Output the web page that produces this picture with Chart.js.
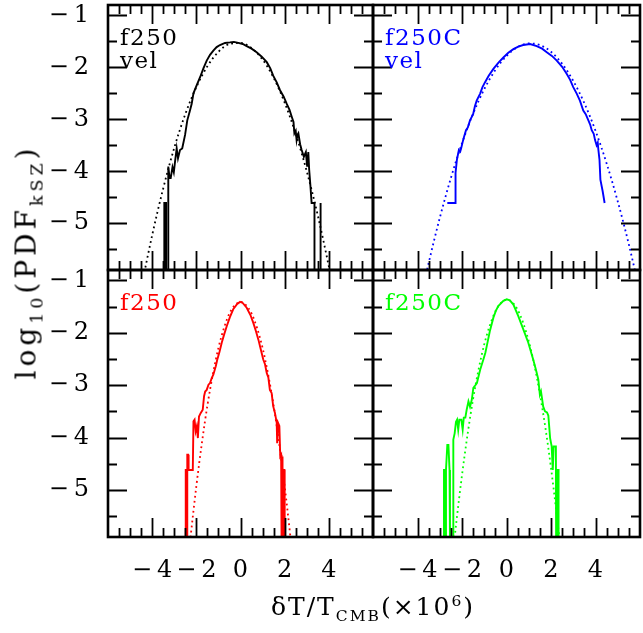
<!DOCTYPE html>
<html>
<head>
<meta charset="utf-8">
<script src="https://cdn.jsdelivr.net/npm/chart.js@4.4.1/dist/chart.umd.min.js"></script>
<style>
  html, body { margin:0; padding:0; background:#fff; }
  #wrap { position:relative; width:643px; height:633px; overflow:hidden; }
  canvas.ov { position:absolute; left:0; top:0; }
  .ttl { position:absolute; font-family:"DejaVu Serif", serif; color:#000; white-space:nowrap; line-height:1; }
  .ttl sub, .ttl sup { font-size:62%; }
  #xtitle { left:373px; top:594px; transform:translateX(-50%); font-size:25px; letter-spacing:2px; }
  #ytitle { left:29px; top:262px; transform:translate(-50%,-50%) rotate(-90deg); font-size:28px; letter-spacing:4px; }
</style>
</head>
<body>
<div id="wrap">
  <canvas class="ov" id="c1" width="643" height="633"></canvas>
  <canvas class="ov" id="c2" width="643" height="633"></canvas>
  <canvas class="ov" id="c3" width="643" height="633"></canvas>
  <canvas class="ov" id="c4" width="643" height="633"></canvas>
  <div class="ttl" id="xtitle">&delta;T/T<sub>CMB</sub>(&times;10<sup>6</sup>)</div>
  <div class="ttl" id="ytitle">log<sub>10</sub>(PDF<sub>kSZ</sub>)</div>
</div>
<script>
// ---------- axis ticks ----------
const xTickLabels = [-4, -2, 0, 2, 4];
const yTickLabels = [-5, -4, -3, -2, -1];

// ---------- panel names ----------
const panelNames = [["f250", "vel"], ["f250C", "vel"], ["f250"], ["f250C"]];
const panelColors = ["#000000", "#0000ff", "#ff0000", "#00ff00"];

// ---------- series: [dT/T (x1e6), log10 PDF] ----------
const f250vel_sim = [[-3.45,-6.0],[-3.45,-4.61],[-3.37,-4.61],[-3.37,-6.0],[-3.27,-6.0],[-3.27,-3.91],[-3.21,-4.13],[-3.16,-4.13],[-3.08,-3.92],[-3.02,-4.02],[-2.96,-3.80],[-2.89,-3.56],[-2.83,-3.75],[-2.74,-3.59],[-2.64,-3.56],[-2.51,-3.30],[-2.41,-3.02],[-2.30,-2.85],[-2.21,-2.70],[-2.13,-2.50],[-2.00,-2.36],[-1.83,-2.19],[-1.68,-2.02],[-1.53,-1.87],[-1.38,-1.76],[-1.23,-1.68],[-1.08,-1.61],[-0.93,-1.57],[-0.70,-1.53],[-0.48,-1.52],[-0.30,-1.51],[-0.10,-1.53],[0.10,-1.55],[0.28,-1.59],[0.50,-1.64],[0.73,-1.71],[0.95,-1.79],[1.19,-1.90],[1.35,-2.02],[1.48,-2.16],[1.64,-2.29],[1.79,-2.44],[1.95,-2.56],[2.09,-2.70],[2.22,-2.82],[2.32,-2.95],[2.40,-3.05],[2.44,-3.27],[2.50,-3.22],[2.54,-3.40],[2.58,-3.30],[2.62,-3.27],[2.70,-3.48],[2.77,-3.59],[2.87,-3.72],[2.96,-3.63],[3.02,-3.91],[3.07,-3.63],[3.11,-3.97],[3.17,-4.30],[3.22,-4.61],[3.35,-4.61],[3.35,-6.0],[3.60,-6.0],[3.60,-4.61],[3.64,-4.61],[3.64,-6.0]];
const f250vel_fit = [[-4.4,-6.04],[-4.0,-5.23],[-3.5,-4.33],[-3.0,-3.55],[-2.5,-2.90],[-2.0,-2.38],[-1.5,-1.98],[-1.0,-1.70],[-0.5,-1.55],[0,-1.53],[0.5,-1.63],[1.0,-1.85],[1.5,-2.20],[2.0,-2.68],[2.5,-3.28],[3.0,-4.00],[3.5,-4.85],[4.0,-5.83],[4.2,-6.25]];

const f250Cvel_sim = [[-2.66,-4.61],[-2.31,-4.61],[-2.29,-4.03],[-2.23,-3.78],[-2.14,-3.59],[-2.08,-3.62],[-2.04,-3.56],[-1.96,-3.42],[-1.91,-3.34],[-1.82,-3.21],[-1.74,-3.16],[-1.64,-3.02],[-1.50,-2.90],[-1.42,-2.75],[-1.34,-2.64],[-1.19,-2.51],[-1.08,-2.38],[-0.97,-2.29],[-0.80,-2.16],[-0.59,-2.03],[-0.36,-1.91],[-0.14,-1.81],[0.08,-1.72],[0.31,-1.65],[0.53,-1.60],[0.75,-1.57],[1.06,-1.55],[1.36,-1.59],[1.60,-1.64],[1.81,-1.71],[2.04,-1.78],[2.26,-1.87],[2.50,-1.99],[2.71,-2.13],[2.86,-2.24],[3.00,-2.38],[3.15,-2.50],[3.30,-2.64],[3.45,-2.83],[3.56,-2.90],[3.68,-3.02],[3.76,-3.10],[3.83,-3.21],[3.92,-3.28],[3.98,-3.40],[4.05,-3.50],[4.10,-3.45],[4.13,-3.59],[4.18,-3.78],[4.22,-4.16],[4.32,-4.38],[4.41,-4.61]];
const f250Cvel_fit = [[-4.0,-6.74],[-3.5,-5.77],[-3.0,-4.90],[-2.5,-4.13],[-2.0,-3.46],[-1.5,-2.89],[-1.0,-2.42],[-0.5,-2.05],[0,-1.78],[0.5,-1.61],[1.0,-1.54],[1.5,-1.57],[2.0,-1.70],[2.5,-1.93],[3.0,-2.26],[3.5,-2.69],[4.0,-3.22],[4.5,-3.85],[5.0,-4.58],[5.5,-5.41],[6.0,-6.34]];

const f250_sim = [[-2.48,-6.0],[-2.48,-4.62],[-2.45,-4.62],[-2.45,-6.0],[-2.41,-6.0],[-2.41,-4.33],[-2.37,-4.33],[-2.35,-4.62],[-2.16,-4.62],[-2.13,-3.69],[-2.08,-3.66],[-2.03,-3.88],[-1.98,-3.79],[-1.93,-4.01],[-1.88,-3.60],[-1.80,-3.53],[-1.71,-3.47],[-1.65,-3.21],[-1.60,-3.12],[-1.53,-3.09],[-1.45,-2.99],[-1.38,-2.96],[-1.30,-2.86],[-1.23,-2.80],[-1.12,-2.64],[-1.05,-2.51],[-0.95,-2.36],[-0.85,-2.19],[-0.74,-2.03],[-0.62,-1.87],[-0.48,-1.70],[-0.33,-1.55],[-0.15,-1.45],[-0.02,-1.41],[0.10,-1.43],[0.28,-1.52],[0.45,-1.66],[0.58,-1.81],[0.70,-1.97],[0.81,-2.13],[0.92,-2.32],[1.03,-2.51],[1.11,-2.60],[1.19,-2.77],[1.26,-2.85],[1.33,-3.09],[1.41,-3.15],[1.48,-3.40],[1.56,-3.53],[1.64,-3.72],[1.66,-4.11],[1.69,-4.11],[1.70,-3.72],[1.76,-3.78],[1.80,-4.36],[1.84,-4.33],[1.86,-6.0],[1.88,-6.0],[1.88,-4.36],[1.91,-4.36],[1.92,-6.0],[1.96,-6.0],[1.96,-4.62],[1.99,-4.62],[2.00,-6.0]];
const f250_fit = [[-2.4,-6.48],[-2.25,-5.86],[-2.0,-4.93],[-1.75,-4.11],[-1.5,-3.39],[-1.25,-2.79],[-1.0,-2.29],[-0.75,-1.91],[-0.5,-1.63],[-0.25,-1.47],[0,-1.41],[0.25,-1.47],[0.5,-1.63],[0.75,-1.91],[1.0,-2.29],[1.25,-2.79],[1.5,-3.39],[1.75,-4.11],[2.0,-4.93],[2.25,-5.86],[2.4,-6.48]];

const f250C_sim = [[-2.81,-6.0],[-2.81,-4.62],[-2.78,-4.62],[-2.78,-6.0],[-2.72,-6.0],[-2.72,-4.62],[-2.66,-4.14],[-2.61,-4.14],[-2.56,-4.62],[-2.54,-6.0],[-2.40,-6.0],[-2.39,-4.04],[-2.33,-3.92],[-2.27,-3.70],[-2.22,-3.66],[-2.17,-3.85],[-2.12,-3.66],[-2.03,-3.66],[-1.97,-3.85],[-1.92,-3.62],[-1.85,-3.62],[-1.79,-3.47],[-1.71,-3.31],[-1.64,-3.41],[-1.56,-3.28],[-1.49,-3.05],[-1.43,-3.02],[-1.33,-2.96],[-1.25,-2.82],[-1.18,-2.70],[-1.04,-2.51],[-0.95,-2.38],[-0.88,-2.24],[-0.75,-1.97],[-0.59,-1.71],[-0.48,-1.58],[-0.37,-1.49],[-0.14,-1.39],[0.01,-1.36],[0.15,-1.38],[0.31,-1.46],[0.53,-1.68],[0.76,-1.94],[0.98,-2.19],[1.20,-2.51],[1.32,-2.70],[1.43,-2.89],[1.50,-3.18],[1.55,-3.12],[1.65,-3.41],[1.73,-3.50],[1.82,-3.52],[1.88,-3.58],[1.96,-4.01],[2.03,-4.17],[2.08,-4.62],[2.12,-4.17],[2.22,-4.17],[2.23,-6.0],[2.30,-6.0],[2.30,-4.62],[2.34,-4.62],[2.34,-6.0]];
const f250C_fit = [[-2.5,-6.58],[-2.25,-5.60],[-2.0,-4.72],[-1.75,-3.94],[-1.5,-3.26],[-1.25,-2.69],[-1.0,-2.22],[-0.75,-1.86],[-0.5,-1.59],[-0.25,-1.43],[0,-1.37],[0.25,-1.41],[0.5,-1.56],[0.75,-1.81],[1.0,-2.16],[1.25,-2.61],[1.5,-3.17],[1.75,-3.82],[2.0,-4.58],[2.25,-5.45],[2.5,-6.41]];

// ---------- drawing ----------
const FONT = "'DejaVu Serif', serif";
const X_MIN = -6, X_MAX = 6, Y_MIN = -5.9, Y_MAX = -0.8;

const framePlugin = {
  id: 'frame',
  afterDatasetsDraw(chart) {
    const { ctx, chartArea: a, scales: { x, y } } = chart;
    ctx.save();
    ctx.strokeStyle = '#000';
    ctx.lineWidth = 1.8;
    ctx.beginPath();
    for (let v = X_MIN + 0.5; v < X_MAX - 0.01; v += 0.5) {
      const px = Math.round(x.getPixelForValue(v)) + 0.5;
      const len = (Math.abs(v % 2) < 1e-6) ? 19 : 9;
      ctx.moveTo(px, a.bottom); ctx.lineTo(px, a.bottom - len);
      ctx.moveTo(px, a.top); ctx.lineTo(px, a.top + len);
    }
    for (let v = -5.5; v < Y_MAX; v += 0.5) {
      const py = Math.round(y.getPixelForValue(v)) + 0.5;
      const len = (Math.abs(v % 1) < 1e-6) ? 19 : 9;
      ctx.moveTo(a.left, py); ctx.lineTo(a.left + len, py);
      ctx.moveTo(a.right, py); ctx.lineTo(a.right - len, py);
    }
    ctx.stroke();
    ctx.lineWidth = 2.6;
    ctx.strokeRect(a.left, a.top, a.right - a.left, a.bottom - a.top);
    ctx.restore();
  }
};

const labelPlugin = {
  id: 'panelLabel',
  afterDraw(chart, args, opts) {
    const { ctx, chartArea: a } = chart;
    ctx.save();
    ctx.font = "23px " + FONT;
    try { ctx.letterSpacing = '1.5px'; } catch (e) {}
    ctx.fillStyle = opts.color;
    ctx.textBaseline = 'alphabetic';
    opts.lines.forEach((t, i) => ctx.fillText(t, a.left + 12, a.top + 40 + i * 23));
    ctx.restore();
  }
};

function minusFmt(v) { return (v < 0 ? '\u2212\u2009' : '') + Math.abs(v); }

function makeChart(id, sim, fit, idx, showX, showY, pad) {
  const color = panelColors[idx];
  const xs = {
    type: 'linear', min: X_MIN, max: X_MAX, display: showX,
    grid: { display: false, drawTicks: false }, border: { display: false },
    ticks: { font: { family: FONT, size: 24 }, color: '#000', padding: 19, maxRotation: 0, autoSkip: false, callback: minusFmt },
    afterBuildTicks: s => { s.ticks = xTickLabels.map(v => ({ value: v })); }
  };
  if (showX) xs.afterFit = s => { s.height = 96; s.paddingLeft = 0; s.paddingRight = 0; };
  const ys = {
    type: 'linear', min: Y_MIN, max: Y_MAX, display: showY,
    grid: { display: false, drawTicks: false }, border: { display: false },
    ticks: { font: { family: FONT, size: 24 }, color: '#000', padding: 19, autoSkip: false, callback: minusFmt },
    afterBuildTicks: s => { s.ticks = yTickLabels.map(v => ({ value: v })); }
  };
  if (showY) ys.afterFit = s => { s.width = 108; s.paddingTop = 0; s.paddingBottom = 0; };
  return new Chart(document.getElementById(id), {
    type: 'scatter',
    data: {
      datasets: [
        { data: fit, showLine: true, borderColor: color, borderWidth: 1.8, borderDash: [1.8, 3.2], pointRadius: 0, cubicInterpolationMode: 'monotone', clip: 0 },
        { data: sim, showLine: true, borderColor: color, borderWidth: 1.9, pointRadius: 0, tension: 0, clip: 0 }
      ]
    },
    options: {
      responsive: false, animation: false, devicePixelRatio: 1,
      layout: { padding: pad },
      scales: { x: xs, y: ys },
      plugins: { legend: { display: false }, tooltip: { enabled: false },
                 panelLabel: { lines: panelNames[idx], color: color } },
      events: []
    },
    plugins: [framePlugin, labelPlugin]
  });
}

makeChart('c1', f250vel_sim, f250vel_fit, 0, false, true,  { left: 0,   right: 270, top: 5,   bottom: 363 });
makeChart('c2', f250Cvel_sim, f250Cvel_fit, 1, false, false, { left: 373, right: 3,   top: 5,   bottom: 363 });
makeChart('c3', f250_sim, f250_fit, 2, true, true,  { left: 0,   right: 270, top: 270, bottom: 0 });
makeChart('c4', f250C_sim, f250C_fit, 3, true, false, { left: 373, right: 3,   top: 270, bottom: 0 });
</script>
</body>
</html>
